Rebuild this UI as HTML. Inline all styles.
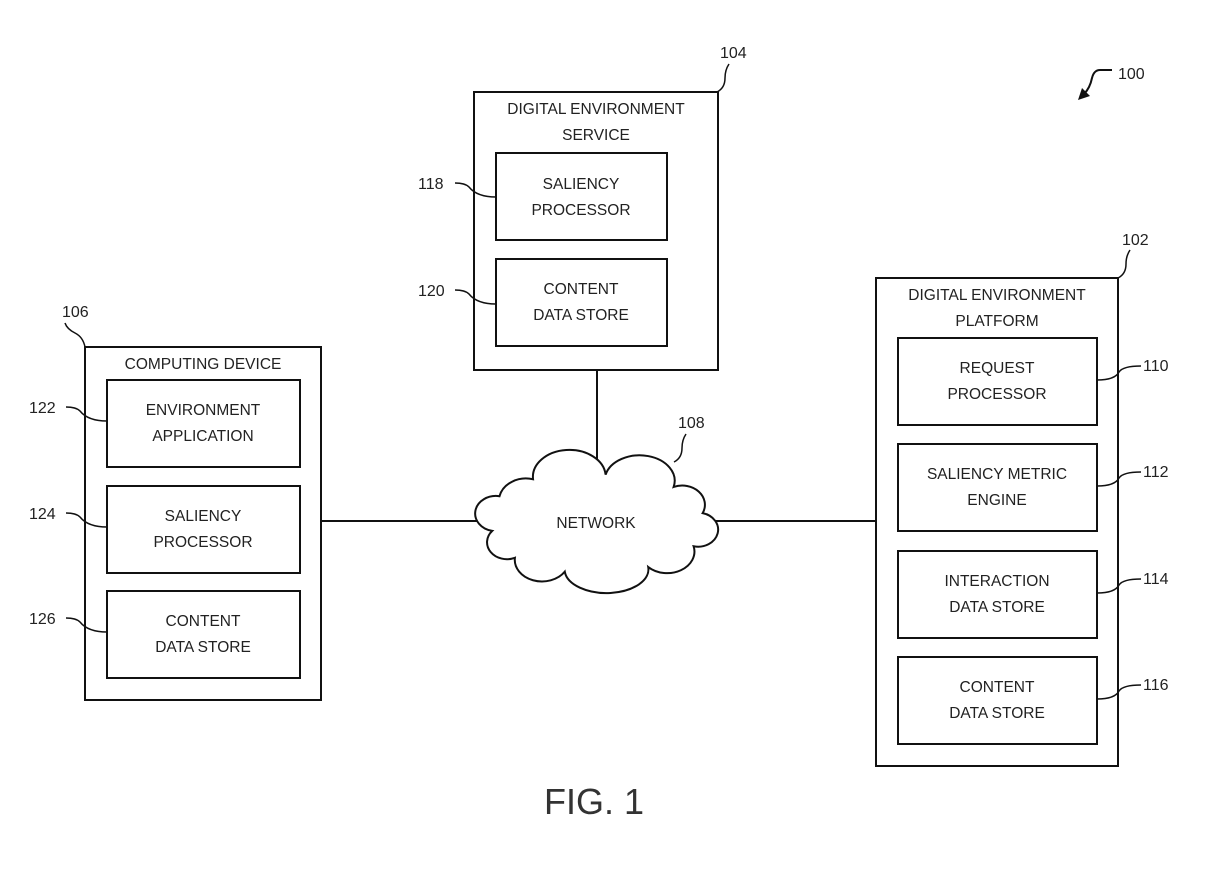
<!DOCTYPE html>
<html><head><style>html,body{margin:0;padding:0;background:#fff}</style></head><body>
<svg width="1207" height="877" viewBox="0 0 1207 877" xmlns="http://www.w3.org/2000/svg" font-family="Liberation Sans, sans-serif" font-size="15.5" fill="#222">
<g fill="none" stroke="#111" stroke-width="2">
<rect x="474" y="92" width="244" height="278"/>
<rect x="496" y="153" width="171" height="87"/>
<rect x="496" y="259" width="171" height="87"/>
<rect x="85" y="347" width="236" height="353"/>
<rect x="107" y="380" width="193" height="87"/>
<rect x="107" y="486" width="193" height="87"/>
<rect x="107" y="591" width="193" height="87"/>
<rect x="876" y="278" width="242" height="488"/>
<rect x="898" y="338" width="199" height="87"/>
<rect x="898" y="444" width="199" height="87"/>
<rect x="898" y="551" width="199" height="87"/>
<rect x="898" y="657" width="199" height="87"/>
<line x1="321" y1="521" x2="480" y2="521"/>
<line x1="714" y1="521" x2="876" y2="521"/>
<line x1="597" y1="370" x2="597" y2="465"/>
<path transform="translate(475,450) scale(0.907,0.77) translate(-461,-430)" vector-effect="non-scaling-stroke" d="M480,535 A22,22 0 0 1 488,490 A30,30 0 0 1 525,468 A40,35 0 0 1 605,462 A35,30 0 0 1 680,478 A25,25 0 0 1 712,512 A22,22 0 0 1 702,555 A30,28 0 0 1 652,582 A45,30 0 0 1 560,588 A30,28 0 0 1 505,570 A22,22 0 0 1 480,535 Z" fill="#fff"/>
<!-- leaders -->
<path d="M717,92 q8,-4 8,-14 q0,-8 4,-14" stroke-width="1.5"/>
<path d="M1118,278 q8,-4 8,-14 q0,-8 4,-14" stroke-width="1.5"/>
<path d="M85,347 q-2,-10 -10,-14 q-8,-4 -10,-10" stroke-width="1.5"/>
<path d="M674,462 q8,-4 8,-14 q0,-8 4,-14" stroke-width="1.5"/>
<path d="M455,183 q10,0 14,4 q8,10 27,10" stroke-width="1.5"/>
<path d="M455,290 q10,0 14,4 q8,10 27,10" stroke-width="1.5"/>
<path d="M66,407 q10,0 14,4 q8,10 27,10" stroke-width="1.5"/>
<path d="M66,513 q10,0 14,4 q8,10 27,10" stroke-width="1.5"/>
<path d="M66,618 q10,0 14,4 q8,10 27,10" stroke-width="1.5"/>
<path d="M1097,380 q18,0 22,-8 q4,-6 22,-6" stroke-width="1.5"/>
<path d="M1097,486 q18,0 22,-8 q4,-6 22,-6" stroke-width="1.5"/>
<path d="M1097,593 q18,0 22,-8 q4,-6 22,-6" stroke-width="1.5"/>
<path d="M1097,699 q18,0 22,-8 q4,-6 22,-6" stroke-width="1.5"/>
<path d="M1112,70 h-12 q-6,0 -8,8 q-2,10 -8,16" stroke-width="2"/>
</g>
<path d="M1078,100 l4,-12 l8,8 z" fill="#111"/>
<g text-anchor="middle">
<text x="596" y="114">DIGITAL ENVIRONMENT</text>
<text x="596" y="140">SERVICE</text>
<text x="581" y="189">SALIENCY</text><text x="581" y="215">PROCESSOR</text>
<text x="581" y="294">CONTENT</text><text x="581" y="320">DATA STORE</text>
<text x="203" y="369">COMPUTING DEVICE</text>
<text x="203" y="415">ENVIRONMENT</text><text x="203" y="441">APPLICATION</text>
<text x="203" y="521">SALIENCY</text><text x="203" y="547">PROCESSOR</text>
<text x="203" y="626">CONTENT</text><text x="203" y="652">DATA STORE</text>
<text x="997" y="300">DIGITAL ENVIRONMENT</text>
<text x="997" y="326">PLATFORM</text>
<text x="997" y="373">REQUEST</text><text x="997" y="399">PROCESSOR</text>
<text x="997" y="479">SALIENCY METRIC</text><text x="997" y="505">ENGINE</text>
<text x="997" y="586">INTERACTION</text><text x="997" y="612">DATA STORE</text>
<text x="997" y="692">CONTENT</text><text x="997" y="718">DATA STORE</text>
<text x="596" y="528">NETWORK</text>
<text x="594" y="814" font-size="36" fill="#333">FIG. 1</text>
</g>
<g font-size="16">
<text x="720" y="58">104</text>
<text x="1122" y="245">102</text>
<text x="62" y="317">106</text>
<text x="678" y="428">108</text>
<text x="1118" y="79">100</text>
<text x="418" y="189">118</text>
<text x="418" y="296">120</text>
<text x="29" y="413">122</text>
<text x="29" y="519">124</text>
<text x="29" y="624">126</text>
<text x="1143" y="371">110</text>
<text x="1143" y="477">112</text>
<text x="1143" y="584">114</text>
<text x="1143" y="690">116</text>
</g>
</svg>
</body></html>
